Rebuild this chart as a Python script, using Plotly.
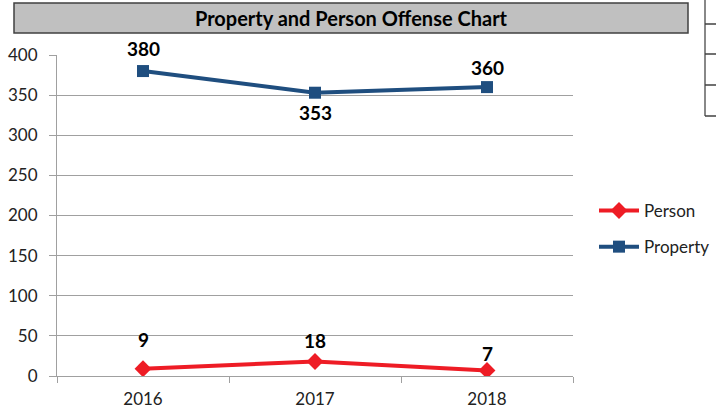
import plotly.graph_objects as go

years = ["2016", "2017", "2018"]
person = [9, 18, 7]
prop = [380, 353, 360]
y_ticks = [0, 50, 100, 150, 200, 250, 300, 350, 400]

FONT = "Lato, Open Sans, sans-serif"
L, R, T, B = 57, 573, 55, 376
W, H = 716, 408

def px(x):
    return (x - L) / (R - L)

def py(y):
    return (B - y) / (B - T)

fig = go.Figure()
fig.add_trace(go.Scatter(
    x=years, y=person, name="Person", mode="lines+markers", legendgroup="a",
    line=dict(color="#ee1c25", width=4),
    marker=dict(symbol="diamond", size=13, color="#ee1c25"),
))
fig.add_trace(go.Scatter(
    x=years, y=prop, name="Property", mode="lines+markers", legendgroup="b",
    line=dict(color="#1f4e7f", width=4),
    marker=dict(symbol="square", size=12, color="#1f4e7f"),
))

prop_shift = [23, -20, 20]
person_shift = [29, 21, 17]
for i in range(len(years)):
    fig.add_annotation(x=i, y=prop[i], text=f"<b>{prop[i]}</b>", showarrow=False,
                       xanchor="center", yanchor="middle",
                       yshift=prop_shift[i], font=dict(size=19, color="black", family=FONT))
    fig.add_annotation(x=i, y=person[i], text=f"<b>{person[i]}</b>", showarrow=False,
                       xanchor="center", yanchor="middle",
                       yshift=person_shift[i], font=dict(size=19, color="black", family=FONT))

# Title box with label
fig.add_shape(type="rect", xref="paper", yref="paper",
              x0=px(14), x1=px(688), y0=py(33), y1=py(3),
              fillcolor="#c0c0c0", line=dict(color="#404040", width=1.5), layer="below",
              label=dict(text="<b>Property and Person Offense Chart</b>", textposition="middle center",
                         font=dict(size=20, color="black", family=FONT)))

# Table fragment at right
fig.add_shape(type="line", xref="paper", yref="paper", x0=px(705), x1=px(705), y0=py(116), y1=py(0),
              line=dict(color="#606060", width=1.5))
for yy in [24, 54, 85, 116]:
    fig.add_shape(type="line", xref="paper", yref="paper", x0=px(705), x1=px(716), y0=py(yy), y1=py(yy),
                  line=dict(color="#404040", width=1.5))

fig.update_layout(
    width=W, height=H,
    margin=dict(l=L, r=W - R, t=T, b=H - B, autoexpand=False),
    paper_bgcolor="white", plot_bgcolor="white",
    font=dict(family=FONT, size=17, color="#222"),
    showlegend=True,
    legend=dict(x=px(594), y=py(193), xanchor="left", yanchor="top",
                font=dict(size=17, color="#222"), tracegroupgap=11, itemwidth=40,
                bgcolor="rgba(0,0,0,0)"),
    xaxis=dict(type="category", range=[-0.5, 2.5], showgrid=False, showline=True,
               linecolor="#a0a0a0", linewidth=1, ticks="outside", tickcolor="#a0a0a0",
               ticklen=6, tickson="boundaries", tickfont=dict(size=17), ticklabelstandoff=8),
    yaxis=dict(range=[0, 400], tickvals=y_ticks, showgrid=True, gridcolor="#a0a0a0",
               gridwidth=1, showline=True, linecolor="#a0a0a0", ticks="outside",
               tickcolor="#a0a0a0", ticklen=7, tickfont=dict(size=17), zeroline=False,
               ticklabelstandoff=8),
)

fig.write_html("out.html", config={"displayModeBar": False},
               post_script="document.body.style.margin='0';document.body.style.overflow='hidden';")
